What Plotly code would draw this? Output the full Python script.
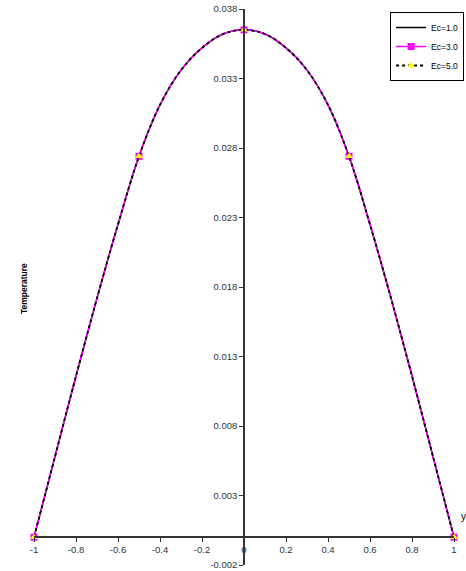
import plotly.graph_objects as go

# Channel coordinate and temperature profiles for three Eckert numbers
y_pos = [-1.0, -0.9, -0.8, -0.7, -0.6, -0.5, -0.4, -0.3, -0.2, -0.1, 0.0,
         0.1, 0.2, 0.3, 0.4, 0.5, 0.6, 0.7, 0.8, 0.9, 1.0]
temp_ec1 = [0.0, 0.0058, 0.0116, 0.0172, 0.0225, 0.0274, 0.0311, 0.0336, 0.0352, 0.0362, 0.0365,
            0.0362, 0.0352, 0.0336, 0.0311, 0.0274, 0.0225, 0.0172, 0.0116, 0.0058, 0.0]
temp_ec3 = [0.0, 0.0058, 0.0116, 0.0172, 0.0225, 0.0274, 0.0311, 0.0336, 0.0352, 0.0362, 0.0365,
            0.0362, 0.0352, 0.0336, 0.0311, 0.0274, 0.0225, 0.0172, 0.0116, 0.0058, 0.0]
temp_ec5 = [0.0, 0.0058, 0.0116, 0.0172, 0.0225, 0.0274, 0.0311, 0.0336, 0.0352, 0.0362, 0.0365,
            0.0362, 0.0352, 0.0336, 0.0311, 0.0274, 0.0225, 0.0172, 0.0116, 0.0058, 0.0]
# Symbols are drawn only at these channel positions
marker_at = [-1.0, -0.5, 0.0, 0.5, 1.0]

series_names = ["Ec=1.0", "Ec=3.0", "Ec=5.0"]
x_ticks = [-1, -0.8, -0.6, -0.4, -0.2, 0, 0.2, 0.4, 0.6, 0.8, 1]
x_labels = ["-1", "-0.8", "-0.6", "-0.4", "-0.2", "0", "0.2", "0.4", "0.6", "0.8", "1"]
y_ticks = [-0.002, 0.003, 0.008, 0.013, 0.018, 0.023, 0.028, 0.033, 0.038]
y_labels = ["-0.002", "0.003", "0.008", "0.013", "0.018", "0.023", "0.028", "0.033", "0.038"]


def marker_colors(color):
    # show a symbol only at the selected positions
    return [color if any(abs(v - m) < 1e-9 for m in marker_at) else "rgba(0,0,0,0)" for v in y_pos]


fig = go.Figure()
fig.add_trace(go.Scatter(
    x=y_pos, y=temp_ec1, name=series_names[0], mode="lines",
    line=dict(color="black", width=1.5, shape="spline", smoothing=1.0), cliponaxis=False))
fig.add_trace(go.Scatter(
    x=y_pos, y=temp_ec3, name=series_names[1], mode="lines+markers",
    line=dict(color="#FF00FF", width=1.5, shape="spline", smoothing=1.0),
    marker=dict(symbol="square", size=7, color=marker_colors("#FF00FF")),
    cliponaxis=False))
fig.add_trace(go.Scatter(
    x=y_pos, y=temp_ec5, name=series_names[2], mode="lines+markers",
    line=dict(color="black", width=1.8, dash="dot", shape="spline", smoothing=1.0),
    marker=dict(symbol="triangle-up", size=7, color=marker_colors("#FFFF00")),
    cliponaxis=False))

axis_font = dict(family="Liberation Sans, Arial, sans-serif", size=9.5, color="#333333")

fig.update_layout(
    width=466, height=571,
    margin=dict(l=34, r=12, t=9, b=6, autoexpand=False),
    plot_bgcolor="white", paper_bgcolor="white",
    font=dict(family="Liberation Sans, Arial, sans-serif"),
    xaxis=dict(
        range=[-1, 1], anchor="free", position=0.05,
        tickvals=x_ticks, ticktext=x_labels, ticks="outside", ticklen=4,
        tickcolor="#333333", showline=True, linecolor="#333333", linewidth=1.5,
        showgrid=False, zeroline=False, tickfont=axis_font),
    yaxis=dict(
        range=[-0.002, 0.038], anchor="free", position=0.5,
        tickvals=y_ticks, ticktext=y_labels, ticks="outside", ticklen=4,
        tickcolor="#333333", showline=True, linecolor="#333333", linewidth=1.5,
        showgrid=False, zeroline=False, tickfont=axis_font),
    legend=dict(
        x=1.024, y=0.9946, xanchor="right", yanchor="top",
        bordercolor="black", borderwidth=1, bgcolor="white",
        font=dict(family="Liberation Sans, Arial, sans-serif", size=8.5, color="black"),
        tracegroupgap=0),
    showlegend=True,
    annotations=[
        dict(text="<b>Temperature</b>", xref="paper", yref="paper",
             x=-0.0405, y=0.498, textangle=-90, showarrow=False,
             font=dict(size=8.5, color="black")),
        dict(text="y", xref="paper", yref="paper", x=1.012, y=0.0737,
             xanchor="left", showarrow=False, font=dict(size=10, color="black")),
    ],
)

fig.write_html("out.html")
